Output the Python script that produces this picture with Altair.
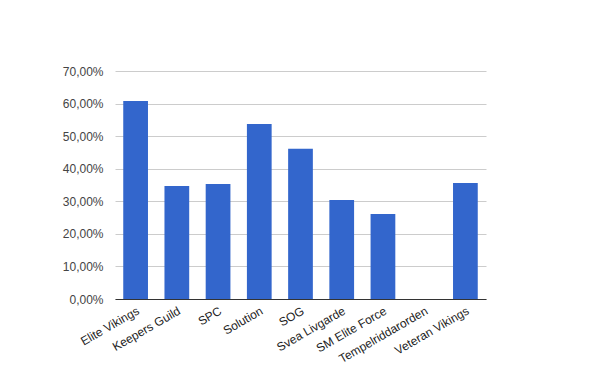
import altair as alt
import pandas as pd

teams = ["Elite Vikings", "Keepers Guild", "SPC", "Solution", "SOG",
         "Svea Livgarde", "SM Elite Force", "Tempelriddarorden", "Veteran Vikings"]
values = [0.608, 0.347, 0.353, 0.537, 0.461, 0.304, 0.261, 0.0, 0.356]
y_ticks = [0, 0.1, 0.2, 0.3, 0.4, 0.5, 0.6, 0.7]

df = pd.DataFrame({"team": teams, "value": values})

chart = alt.Chart(df).mark_bar(color="#3366cc").encode(
    x=alt.X("team:N", sort=teams, title=None,
            scale=alt.Scale(paddingInner=0.4, paddingOuter=0.2),
            axis=alt.Axis(labelAngle=-30, labelAlign="right", labelBaseline="top",
                          labelFont="Liberation Sans", labelFontSize=12, labelColor="#222222",
                          labelOverlap=False, labelLimit=0,
                          ticks=False, domain=True, domainColor="#333333", domainWidth=1,
                          grid=False, labelPadding=6)),
    y=alt.Y("value:Q", title=None,
            scale=alt.Scale(domain=[0, 0.7], nice=False),
            axis=alt.Axis(values=y_ticks,
                          labelExpr="replace(format(datum.value, '.2%'), '.', ',')",
                          labelFont="Liberation Sans", labelFontSize=12, labelColor="#444444",
                          labelOverlap=False, labelFlush=False,
                          ticks=False, domain=False, gridColor="#cccccc", labelPadding=12)),
).properties(
    width=371, height=228,
    autosize=alt.AutoSizeParams(type="none"),
    padding={"left": 107, "top": 63, "right": 106, "bottom": 68},
).configure_view(stroke=None)

chart.save("out.html", embed_options={"renderer": "svg", "actions": False})
